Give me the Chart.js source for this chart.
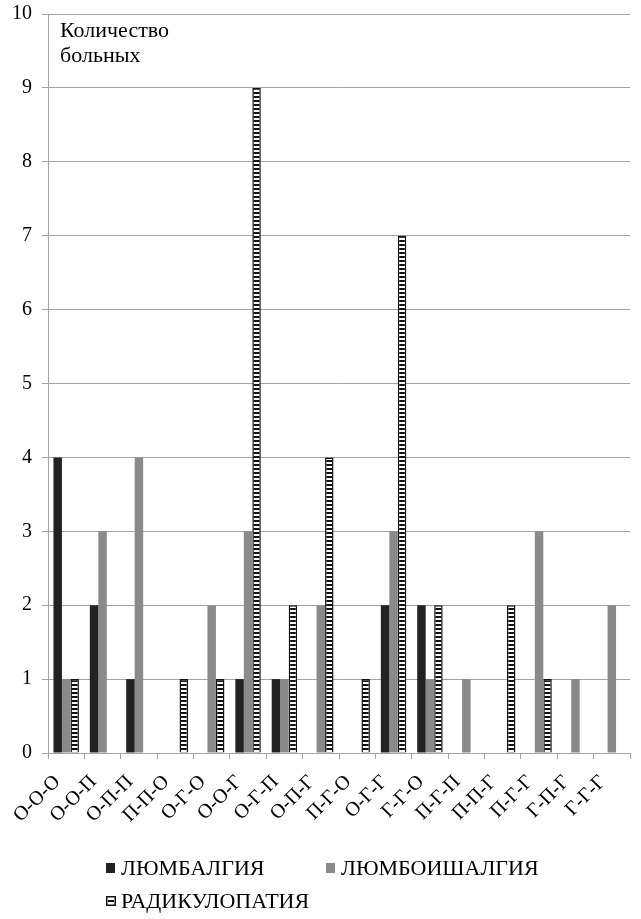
<!DOCTYPE html>
<html>
<head>
<meta charset="utf-8">
<script src="https://cdn.jsdelivr.net/npm/chart.js@4.4.0/dist/chart.umd.min.js"></script>
<style>
  html, body { margin: 0; padding: 0; background: #fff; }
</style>
</head>
<body>
<canvas id="chart" width="641" height="919"></canvas>
<script>
const categories = ["О-О-О", "О-О-П", "О-П-П", "П-П-О", "О-Г-О", "О-О-Г", "О-Г-П", "О-П-Г",
  "П-Г-О", "О-Г-Г", "Г-Г-О", "П-Г-П", "П-П-Г", "П-Г-Г", "Г-П-Г", "Г-Г-Г"];
const lumbalgia = [4, 2, 1, 0, 0, 1, 1, 0, 0, 2, 2, 0, 0, 0, 0, 0];
const lumboishalgia = [1, 3, 4, 0, 2, 3, 1, 2, 0, 3, 1, 1, 0, 3, 1, 2];
const radiculopathy = [1, 0, 0, 1, 1, 9, 2, 4, 1, 7, 2, 0, 2, 1, 0, 0];
const seriesNames = ["ЛЮМБАЛГИЯ", "ЛЮМБОИШАЛГИЯ", "РАДИКУЛОПАТИЯ"];
const yMin = 0, yMax = 10, yStep = 1;
const axisTitle = ["Количество", "больных"];

const FONT = "'Liberation Serif', 'DejaVu Serif', serif";
const GRID = "#a3a3a3";

// horizontal stripes for the third series
function stripes() {
  const p = document.createElement("canvas");
  p.width = 4; p.height = 4;
  const g = p.getContext("2d");
  g.fillStyle = "#fff";
  g.fillRect(0, 0, 4, 4);
  g.fillStyle = "#111";
  g.fillRect(0, 0, 4, 2);
  return g.createPattern(p, "repeat");
}

const overlay = {
  id: "overlay",
  afterDraw(chart) {
    const ctx = chart.ctx;
    const area = chart.chartArea;
    ctx.save();
    ctx.fillStyle = "#000";
    ctx.font = "22px " + FONT;
    ctx.textBaseline = "alphabetic";
    ctx.textAlign = "left";
    // axis caption inside the plot
    ctx.fillText(axisTitle[0], area.left + 12, area.top + 23);
    ctx.fillText(axisTitle[1], area.left + 12, area.top + 48);

    // legend, two rows
    const items = [
      { x: 106, y: 868 },
      { x: 326, y: 868 },
      { x: 106, y: 901 }
    ];
    chart.data.datasets.forEach((ds, i) => {
      const it = items[i];
      const bx = it.x, by = it.y - 5;
      if (i === 2) {
        ctx.fillStyle = "#fff";
        ctx.fillRect(bx, by, 10, 10);
        ctx.fillStyle = "#111";
        ctx.fillRect(bx + 2, by + 4, 6, 2);
        ctx.strokeStyle = "#111";
        ctx.lineWidth = 1.5;
        ctx.strokeRect(bx + 0.75, by + 0.75, 8.5, 8.5);
      } else {
        ctx.fillStyle = ds.backgroundColor;
        ctx.fillRect(bx, by, 9, 10);
      }
      ctx.fillStyle = "#000";
      ctx.textBaseline = "middle";
      ctx.fillText(ds.label, it.x + 15, it.y + 1);
    });
    ctx.restore();
  }
};

new Chart(document.getElementById("chart"), {
  type: "bar",
  data: {
    labels: categories,
    datasets: [
      { label: seriesNames[0], data: lumbalgia, backgroundColor: "#222222" },
      { label: seriesNames[1], data: lumboishalgia, backgroundColor: "#8a8a8a" },
      { label: seriesNames[2], data: radiculopathy, backgroundColor: stripes(),
        borderColor: "#111", borderWidth: 1.5 }
    ]
  },
  options: {
    responsive: false,
    animation: false,
    layout: { padding: { left: 0, right: 11, top: 14, bottom: 72 } },
    datasets: { bar: { categoryPercentage: 0.7, barPercentage: 1.0 } },
    plugins: {
      legend: { display: false },
      tooltip: { enabled: false }
    },
    scales: {
      x: {
        grid: { display: true, drawOnChartArea: false, drawTicks: true, tickLength: 6, color: GRID, offset: true },
        border: { color: GRID },
        ticks: { color: "#000", font: { family: FONT, size: 20, lineHeight: 0.4 }, maxRotation: 45, minRotation: 45,
          padding: 17, labelOffset: -9, autoSkip: false },
        afterFit(scale) { scale.height = 94; }
      },
      y: {
        min: yMin,
        max: yMax,
        ticks: { stepSize: yStep, color: "#000", font: { family: FONT, size: 20, lineHeight: 0.4 }, padding: 10 },
        grid: { color: GRID, tickLength: 6 },
        border: { color: GRID },
        afterFit(scale) { scale.width = 48; }
      }
    }
  },
  plugins: [overlay]
});
</script>
</body>
</html>
